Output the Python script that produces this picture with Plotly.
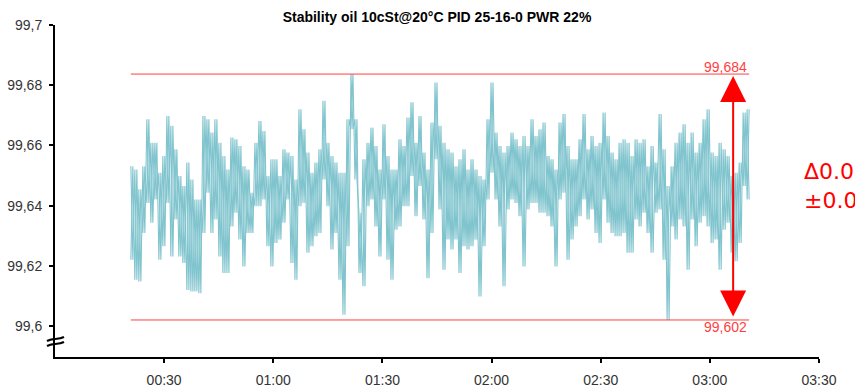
import pandas as pd
import plotly.graph_objects as go

# local highs / lows of the record, ~66 s apart
highs = [
    99.6531, 99.6520, 99.6454, 99.6531, 99.6687, 99.6609, 99.6609, 99.6509, 99.6565, 99.6698,
    99.6665, 99.6587, 99.6498, 99.6465, 99.6543, 99.6487, 99.6420, 99.6420, 99.6698, 99.6687,
    99.6643, 99.6687, 99.6609, 99.6565, 99.6520, 99.6626, 99.6620, 99.6598, 99.6531, 99.6520,
    99.6443, 99.6609, 99.6681, 99.6648, 99.6498, 99.6554, 99.6554, 99.6498, 99.6587, 99.6576,
    99.6565, 99.6487, 99.6720, 99.6654, 99.6576, 99.6509, 99.6543, 99.6587, 99.6748, 99.6609,
    99.6565, 99.6543, 99.6509, 99.6509, 99.6687, 99.6837, 99.6687, 99.6376, 99.6554, 99.6609,
    99.6659, 99.6598, 99.6520, 99.6670, 99.6565, 99.6520, 99.6520, 99.6620, 99.6598, 99.6693,
    99.6743, 99.6609, 99.6698, 99.6576, 99.6520, 99.6676, 99.6809, 99.6665, 99.6609, 99.6587,
    99.6576, 99.6531, 99.6554, 99.6587, 99.6520, 99.6554, 99.6520, 99.6498, 99.6487, 99.6687,
    99.6809, 99.6643, 99.6598, 99.6576, 99.6598, 99.6643, 99.6620, 99.6598, 99.6631, 99.6598,
    99.6687, 99.6631, 99.6654, 99.6676, 99.6565, 99.6554, 99.6520, 99.6676, 99.6704, 99.6598,
    99.6554, 99.6554, 99.6620, 99.6704, 99.6587, 99.6631, 99.6598, 99.6609, 99.6709, 99.6631,
    99.6576, 99.6554, 99.6609, 99.6620, 99.6609, 99.6565, 99.6620, 99.6609, 99.6620, 99.6531,
    99.6598, 99.6543, 99.6704, 99.6587, 99.6465, 99.6531, 99.6609, 99.6643, 99.6670, 99.6609,
    99.6643, 99.6576, 99.6609, 99.6687, 99.6720, 99.6576, 99.6565, 99.6609, 99.6587, 99.6565,
    99.6498, 99.6509, 99.6543, 99.6709, 99.6720,
]
lows = [
    99.6220, 99.6154, 99.6148, 99.6309, 99.6409, 99.6343, 99.6420, 99.6220, 99.6265, 99.6409,
    99.6231, 99.6354, 99.6231, 99.6209, 99.6120, 99.6115, 99.6115, 99.6109, 99.6309, 99.6443,
    99.6309, 99.6354, 99.6231, 99.6176, 99.6176, 99.6331, 99.6376, 99.6287, 99.6198, 99.6309,
    99.6309, 99.6398, 99.6398, 99.6420, 99.6265, 99.6198, 99.6276, 99.6287, 99.6343, 99.6420,
    99.6209, 99.6154, 99.6398, 99.6409, 99.6243, 99.6265, 99.6298, 99.6309, 99.6487, 99.6398,
    99.6254, 99.6309, 99.6154, 99.6037, 99.6265, 99.6654, 99.6487, 99.6176, 99.6132, 99.6398,
    99.6420, 99.6331, 99.6231, 99.6420, 99.6220, 99.6154, 99.6320, 99.6331, 99.6398, 99.6398,
    99.6498, 99.6365, 99.6465, 99.6354, 99.6159, 99.6309, 99.6554, 99.6387, 99.6187, 99.6287,
    99.6254, 99.6287, 99.6176, 99.6265, 99.6254, 99.6265, 99.6287, 99.6098, 99.6265, 99.6420,
    99.6509, 99.6420, 99.6331, 99.6132, 99.6387, 99.6420, 99.6409, 99.6365, 99.6198, 99.6387,
    99.6409, 99.6409, 99.6376, 99.6376, 99.6365, 99.6331, 99.6198, 99.6420, 99.6443, 99.6220,
    99.6287, 99.6331, 99.6365, 99.6420, 99.6354, 99.6387, 99.6309, 99.6276, 99.6420, 99.6343,
    99.6309, 99.6298, 99.6298, 99.6309, 99.6243, 99.6243, 99.6354, 99.6331, 99.6376, 99.6309,
    99.6243, 99.6376, 99.6387, 99.6220, 99.6020, 99.6331, 99.6287, 99.6354, 99.6331, 99.6187,
    99.6354, 99.6265, 99.6343, 99.6365, 99.6331, 99.6276, 99.6287, 99.6187, 99.6320, 99.6343,
    99.6243, 99.6215, 99.6276, 99.6465, 99.6420,
]
start = "2024-01-01 00:20:51"
arrow_time = "2024-01-01 03:06:24"

x_ticks = ["00:30", "01:00", "01:30", "02:00", "02:30", "03:00", "03:30"]
y_ticks = [99.6, 99.62, 99.64, 99.66, 99.68, 99.7]
y_labels = ["99,6", "99,62", "99,64", "99,66", "99,68", "99,7"]

# min/max per interval drawn as a zigzag, both phases, like a dense recorder trace
zig = [v for h, l in zip(highs, lows) for v in (h, l)]
zag = [v for h, l in zip(highs, lows) for v in (l, h)]
times = pd.date_range(start, periods=len(zig), freq="33s")
tick_times = ["2024-01-01 " + t for t in x_ticks]
x_range = ["2024-01-01 00:00", "2024-01-01 03:30"]
y_range = [99.5897, 99.7]

vmax, vmin = max(highs), min(lows)
delta = round(vmax - vmin, 3)

TEAL = "rgb(128,196,206)"
RED = "#ff4040"
FONT = "Liberation Sans, Arial, sans-serif"

W, H = 855, 387
ML, MR, MT, MB = 55, 36, 25, 30


def px_paper(px, py):
    return (px - ML) / (W - ML - MR), (H - MB - py) / (H - MT - MB)


fig = go.Figure()
for series in (zig, zag):
    fig.add_trace(go.Scatter(x=times, y=series, mode="lines",
                             line=dict(color=TEAL, width=1.1), hoverinfo="skip"))

# min / max guide lines
for v in (vmax, vmin):
    fig.add_trace(go.Scatter(x=[times[0], times[-1]], y=[v, v], mode="lines",
                             line=dict(color=RED, width=1), hoverinfo="skip"))

fig.add_annotation(x=times[-1], y=vmax, text=f"{vmax:.3f}".replace(".", ","),
                   showarrow=False, xanchor="right", yanchor="bottom",
                   font=dict(color=RED, size=14, family=FONT), xshift=0, yshift=-3)
fig.add_annotation(x=times[-1], y=vmin, text=f"{vmin:.3f}".replace(".", ","),
                   showarrow=False, xanchor="right", yanchor="top",
                   font=dict(color=RED, size=14, family=FONT), xshift=0, yshift=3)

# double arrow
fig.add_annotation(x=arrow_time, y=vmax, ax=arrow_time, ay=vmin, axref="x", ayref="y",
                   text="", showarrow=True, arrowhead=2, arrowside="end+start",
                   arrowsize=2.6, arrowwidth=2, arrowcolor="#ff0000",
                   standoff=2, startstandoff=2)

tx, ty1 = px_paper(802, 172)
_, ty2 = px_paper(802, 201)
fig.add_annotation(xref="paper", yref="paper", x=tx, y=ty1, text=f"Δ{delta:.3f}",
                   showarrow=False, xanchor="left", yanchor="middle",
                   font=dict(color="#ff0000", size=22, family="DejaVu Sans"))
fig.add_annotation(xref="paper", yref="paper", x=tx, y=ty2, text=f"±{delta / 2:.3f}",
                   showarrow=False, xanchor="left", yanchor="middle",
                   font=dict(color="#ff0000", size=22, family="DejaVu Sans"))

# axis break mark
for yy in (339, 344):
    pts = [px_paper(47, yy + 2), px_paper(52, yy - 1), px_paper(58, yy + 1), px_paper(64, yy - 2)]
    path = "M {},{} C {},{} {},{} {},{}".format(*[c for p in pts for c in p])
    fig.add_shape(type="path", xref="paper", yref="paper", path=path,
                  line=dict(color="black", width=2.2))

axis_common = dict(showline=True, linecolor="black", linewidth=2, ticks="outside",
                   ticklen=4, tickwidth=1.5, tickcolor="black", showgrid=False,
                   zeroline=False, automargin=False,
                   tickfont=dict(family=FONT, size=14, color="#333"))

fig.update_layout(
    width=W, height=H,
    margin=dict(l=ML, r=MR, t=MT, b=MB, autoexpand=False),
    paper_bgcolor="white", plot_bgcolor="white",
    showlegend=False,
    title=dict(text="<b>Stability oil 10cSt@20°C PID 25-16-0 PWR 22%</b>",
               x=0.5, xref="paper", y=1 - 17 / H, yanchor="middle",
               font=dict(family=FONT, size=14, color="black")),
    xaxis=dict(range=x_range, type="date", tickvals=tick_times, ticktext=x_ticks,
               ticklabelstandoff=5, **axis_common),
    yaxis=dict(range=y_range, tickvals=y_ticks, ticktext=y_labels,
               ticklabelstandoff=4, **axis_common),
    xaxis2=dict(range=x_range, type="date", overlaying="x", anchor="y", side="bottom",
                tickvals=tick_times, ticks="inside", ticklen=4, tickwidth=1.5,
                tickcolor="black", showticklabels=False, showgrid=False, showline=False,
                automargin=False),
    yaxis2=dict(range=y_range, overlaying="y", anchor="x", side="left",
                tickvals=y_ticks, ticks="inside", ticklen=4, tickwidth=1.5,
                tickcolor="black", showticklabels=False, showgrid=False, showline=False,
                automargin=False),
)

fig.write_html("out.html", config={"displayModeBar": False},
               post_script="document.body.style.margin='0';document.body.style.overflow='hidden';")
